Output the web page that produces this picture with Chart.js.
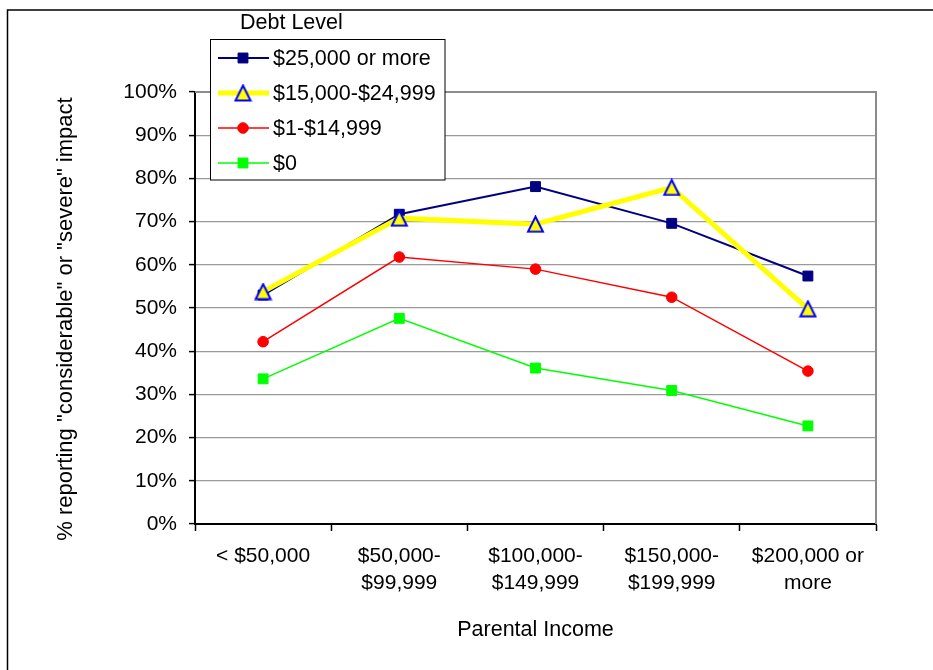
<!DOCTYPE html>
<html><head><meta charset="utf-8">
<script src="https://cdn.jsdelivr.net/npm/chart.js@4/dist/chart.umd.min.js"></script>
<style>html,body{margin:0;padding:0;background:#fff;}#wrap{width:933px;height:670px;position:relative;}</style>
</head><body><div id="wrap"><canvas id="c" width="933" height="670"></canvas></div>
<script>
const categories = [['< $50,000'], ['$50,000-', '$99,999'], ['$100,000-', '$149,999'], ['$150,000-', '$199,999'], ['$200,000 or', 'more']];
const seriesNames = ['$25,000 or more', '$15,000-$24,999', '$1-$14,999', '$0'];
const debt25kPlus = [53.0, 71.7, 78.1, 69.6, 57.4];
const debt15kTo25k = [53.8, 70.8, 69.4, 77.9, 49.8];
const debt1To15k = [42.2, 61.8, 59.0, 52.5, 35.4];
const debtZero = [33.6, 47.6, 36.1, 30.9, 22.7];
const legendTitle = 'Debt Level';
const xTitle = 'Parental Income';
const yTitle = '% reporting "considerable" or "severe" impact';

const FONT = "'Liberation Sans', Arial, sans-serif";

// triangle marker (bounding box centred on the point, like the original)
const tri = document.createElement('canvas');
tri.width = 19; tri.height = 18;
(function () {
  const c = tri.getContext('2d');
  c.beginPath();
  c.moveTo(9.5, 1.5);
  c.lineTo(17, 16.5);
  c.lineTo(2, 16.5);
  c.closePath();
  c.fillStyle = '#FFFF00';
  c.fill();
  c.lineWidth = 2;
  c.strokeStyle = '#0000FF';
  c.stroke();
})();

const datasets = [
  {label: seriesNames[0], data: debt25kPlus, borderColor: '#000080', borderWidth: 2, pointStyle: 'rect', pointRadius: 7, pointBackgroundColor: '#000080', pointBorderColor: '#000080', pointBorderWidth: 1, order: 2},
  {label: seriesNames[1], data: debt15kTo25k, borderColor: '#FFFF00', borderWidth: 5, pointStyle: tri, pointRadius: 9, pointBackgroundColor: '#FFFF00', pointBorderColor: '#0000FF', pointBorderWidth: 2, order: 1},
  {label: seriesNames[2], data: debt1To15k, borderColor: '#FF0000', borderWidth: 1.5, pointStyle: 'circle', pointRadius: 5.3, pointBackgroundColor: '#FF0000', pointBorderColor: '#FF0000', pointBorderWidth: 1, order: 3},
  {label: seriesNames[3], data: debtZero, borderColor: '#00FF00', borderWidth: 1.5, pointStyle: 'rect', pointRadius: 7, pointBackgroundColor: '#00FF00', pointBorderColor: '#00FF00', pointBorderWidth: 1, order: 4}
];
datasets.forEach(d => { d.tension = 0; d.fill = false; d.pointHoverRadius = d.pointRadius; });

const framePlugin = {
  id: 'frame',
  beforeDraw(chart) {
    const ctx = chart.ctx;
    ctx.save();
    ctx.fillStyle = '#fff';
    ctx.fillRect(0, 0, chart.width, chart.height);
    ctx.strokeStyle = '#000';
    ctx.lineWidth = 1.5;
    ctx.beginPath();
    ctx.moveTo(7.5, chart.height);
    ctx.lineTo(7.5, 10);
    ctx.lineTo(chart.width, 10);
    ctx.stroke();
    ctx.restore();
  },
  beforeDatasetsDraw(chart) {
    const ctx = chart.ctx, a = chart.chartArea;
    ctx.save();
    ctx.strokeStyle = '#8c8c8c';
    ctx.lineWidth = 2;
    ctx.beginPath();
    ctx.moveTo(a.left, a.top);
    ctx.lineTo(a.right, a.top);
    ctx.lineTo(a.right, a.bottom);
    ctx.stroke();
    ctx.restore();
  },
  afterDraw(chart) {
    const ctx = chart.ctx, a = chart.chartArea;
    ctx.save();
    // y axis title
    ctx.save();
    ctx.translate(66, (a.top + a.bottom) / 2 + 11);
    ctx.rotate(-Math.PI / 2);
    ctx.font = '22px ' + FONT;
    ctx.fillStyle = '#000';
    ctx.textAlign = 'center';
    ctx.textBaseline = 'middle';
    ctx.fillText(yTitle, 0, 0);
    ctx.restore();
    // legend
    ctx.font = '21.5px ' + FONT;
    ctx.fillStyle = '#000';
    ctx.textAlign = 'left';
    ctx.textBaseline = 'middle';
    ctx.fillText(legendTitle, 240, 23);
    ctx.fillStyle = '#fff';
    ctx.fillRect(210, 39, 235, 141);
    ctx.strokeStyle = '#000';
    ctx.lineWidth = 1;
    ctx.strokeRect(210.5, 39.5, 234.5, 140.5);
    const rows = [58, 93, 128, 163];
    chart.data.datasets.forEach((d, i) => {
      const y = rows[i];
      ctx.strokeStyle = d.borderColor;
      ctx.lineWidth = d.borderWidth;
      ctx.beginPath();
      ctx.moveTo(218, y);
      ctx.lineTo(269, y);
      ctx.stroke();
      if (typeof d.pointStyle === 'string') {
        ctx.fillStyle = d.pointBackgroundColor;
        ctx.strokeStyle = d.pointBorderColor;
        ctx.lineWidth = d.pointBorderWidth;
        Chart.helpers.drawPoint(ctx, {pointStyle: d.pointStyle, radius: d.pointRadius, borderWidth: d.pointBorderWidth, rotation: 0}, 243, y);
      } else {
        ctx.drawImage(d.pointStyle, 243 - d.pointStyle.width / 2, y - d.pointStyle.height / 2);
      }
      ctx.fillStyle = '#000';
      ctx.font = '21.5px ' + FONT;
      ctx.fillText(d.label, 273, y + 1);
    });
    ctx.restore();
  }
};

new Chart(document.getElementById('c'), {
  type: 'line',
  data: {labels: categories, datasets: datasets},
  plugins: [framePlugin],
  options: {
    responsive: false,
    animation: false,
    devicePixelRatio: 1,
    layout: {padding: {left: 0, top: 92, right: 57, bottom: 0}},
    plugins: {legend: {display: false}, tooltip: {enabled: false}},
    scales: {
      x: {
        type: 'category',
        offset: true,
        grid: {offset: true, drawOnChartArea: false, tickLength: 7, tickColor: '#000', tickWidth: 1.5},
        border: {color: '#000', width: 2},
        ticks: {font: {family: FONT, size: 21, lineHeight: '27px'}, color: '#000', padding: 12, maxRotation: 0, autoSkip: false},
        title: {display: true, text: xTitle, color: '#000', font: {family: FONT, size: 21.5}, padding: {top: 0, bottom: 27}},
        afterFit(s) { s.height = 146; }
      },
      y: {
        min: 0, max: 100,
        grid: {color: '#9a9a9a', lineWidth: 1.2, tickColor: '#000', tickLength: 6, tickWidth: 1.5},
        border: {color: '#000', width: 2},
        ticks: {stepSize: 10, callback: v => v + '%', font: {family: FONT, size: 21}, color: '#000', padding: 12},
        title: {display: false},
        afterFit(s) { s.width = 195; }
      }
    }
  }
});
</script>
</body></html>
